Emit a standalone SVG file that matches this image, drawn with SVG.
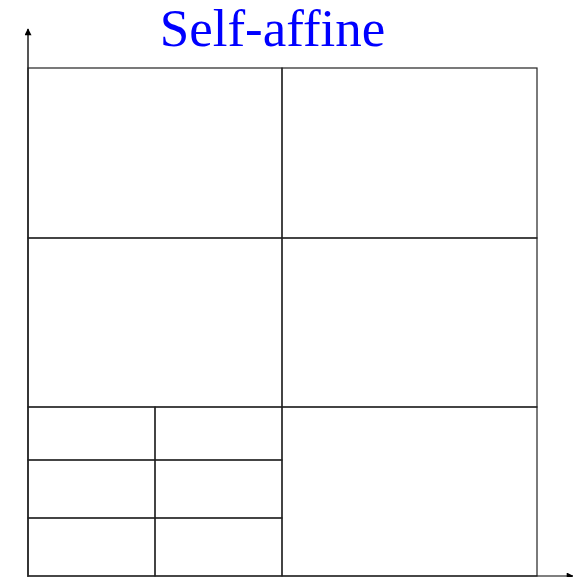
<svg xmlns="http://www.w3.org/2000/svg" width="573" height="577" viewBox="0 0 573 577">
<style>
.grid{fill:none;stroke:#222;stroke-width:1.2}
.axis{stroke:#555;stroke-width:1.5;fill:none}
.title{font-family:"Liberation Serif","Times New Roman",serif;font-size:53px;fill:#0000ff}
</style>
<defs>
<marker id="ah" viewBox="0 0 10 10" refX="9" refY="5" markerWidth="10" markerHeight="7" orient="auto" markerUnits="userSpaceOnUse">
<path d="M0,0 L10,5 L0,10 z" fill="#000"/>
</marker>
</defs>
<rect width="573" height="577" fill="#fff"/>
<g id="connectors">
<line class="axis" x1="28" y1="577" x2="28" y2="29" marker-end="url(#ah)" style="stroke-width:2;"/>
<line class="axis" x1="28" y1="576" x2="573" y2="576" marker-end="url(#ah)"/>
</g>
<g id="title"><text class="title" x="272.5" y="46" text-anchor="middle">Self-affine</text></g>
<g id="grid">
<rect id="cell-tl" class="grid" x="28" y="68" width="254" height="170"/>
<rect id="cell-tr" class="grid" x="282" y="68" width="255" height="170"/>
<rect id="cell-ml" class="grid" x="28" y="238" width="254" height="169"/>
<rect id="cell-mr" class="grid" x="282" y="238" width="255" height="169"/>
<rect id="cell-br" class="grid" x="282" y="407" width="255" height="169"/>
<rect id="cell-b1" class="grid" x="28" y="407" width="127" height="53"/>
<rect id="cell-b2" class="grid" x="155" y="407" width="127" height="53"/>
<rect id="cell-b3" class="grid" x="28" y="460" width="127" height="58"/>
<rect id="cell-b4" class="grid" x="155" y="460" width="127" height="58"/>
<rect id="cell-b5" class="grid" x="28" y="518" width="127" height="58"/>
<rect id="cell-b6" class="grid" x="155" y="518" width="127" height="58"/>
</g>
</svg>
